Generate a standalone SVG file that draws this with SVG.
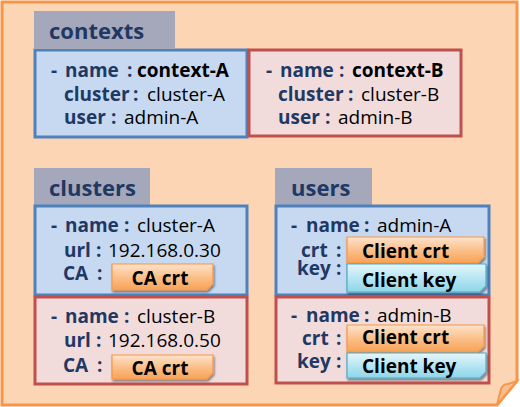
<svg xmlns="http://www.w3.org/2000/svg" width="520" height="407" viewBox="0 0 520 407">
<defs>
<linearGradient id="gOr" x1="0" y1="0" x2="0" y2="1">
<stop offset="0" stop-color="#FDE3CC"/>
<stop offset="0.5" stop-color="#FBC08A"/>
<stop offset="1" stop-color="#F8A257"/>
</linearGradient>
<linearGradient id="gCy" x1="0" y1="0" x2="0" y2="1">
<stop offset="0" stop-color="#E6F6FB"/>
<stop offset="0.5" stop-color="#B7E6F3"/>
<stop offset="1" stop-color="#8DD6EA"/>
</linearGradient>
<filter id="sh" x="-10%" y="-20%" width="130%" height="160%">
<feGaussianBlur in="SourceAlpha" stdDeviation="1.2"/>
<feOffset dx="1" dy="2" result="b"/>
<feComponentTransfer><feFuncA type="linear" slope="0.45"/></feComponentTransfer>
<feMerge><feMergeNode/><feMergeNode in="SourceGraphic"/></feMerge>
</filter>
</defs>
<style>
text{font-family:"Open Sans","Noto Sans",sans-serif;font-size:19px;fill:#000}
.h{font-size:22px;font-weight:bold;fill:#1F3864}
.k{font-weight:bold;fill:#1F3864}
.b{font-weight:bold;fill:#000}
.tab{fill:#A4A8BA}
.blue{fill:#C6D9F1;stroke:#4F81BD;stroke-width:3}
.red{fill:#F2DCDB;stroke:#C0504D;stroke-width:3}
.or{fill:url(#gOr);stroke:#F79646;stroke-width:1.2}
.cy{fill:url(#gCy);stroke:#4BACC6;stroke-width:1.2}
.lbl{font-weight:bold;fill:#000}
</style>
<g id="background">
<path d="M2,2 H517 V381 L497,405 H2 Z" fill="#FCD5B5" stroke="#F79646" stroke-width="3"/>
<path d="M497,405 L501,389 Q503,384 508,384 L517,381 Z" fill="#F6BE8E" stroke="#F79646" stroke-width="2"/>
</g>
<g id="tab-contexts">
<rect class="tab" x="34" y="11" width="141" height="37"/>
<text class="h" x="49" y="39">contexts</text>
</g>
<g id="context-A">
<rect class="blue" x="35" y="50" width="212" height="87"/>
<text y="77"><tspan class="k" x="51">-</tspan><tspan class="k" x="65">name</tspan><tspan class="k" x="127">:</tspan><tspan class="b" x="137">context-A</tspan></text>
<text y="101"><tspan class="k" x="64">cluster</tspan><tspan class="k" x="133">:</tspan><tspan x="147">cluster-A</tspan></text>
<text y="124"><tspan class="k" x="64">user</tspan><tspan class="k" x="111">:</tspan><tspan x="124">admin-A</tspan></text>
</g>
<g id="context-B">
<rect class="red" x="249" y="50" width="212" height="86"/>
<text y="77"><tspan class="k" x="266">-</tspan><tspan class="k" x="280">name</tspan><tspan class="k" x="339">:</tspan><tspan class="b" x="352">context-B</tspan></text>
<text y="101"><tspan class="k" x="278">cluster</tspan><tspan class="k" x="348">:</tspan><tspan x="361">cluster-B</tspan></text>
<text y="124"><tspan class="k" x="278">user</tspan><tspan class="k" x="325">:</tspan><tspan x="338">admin-B</tspan></text>
</g>
<g id="tab-clusters">
<rect class="tab" x="34" y="168" width="116" height="37"/>
<text class="h" x="49" y="196">clusters</text>
</g>
<g id="cluster-A">
<rect class="blue" x="35" y="206" width="212" height="89"/>
<text y="232"><tspan class="k" x="51">-</tspan><tspan class="k" x="65">name</tspan><tspan class="k" x="124">:</tspan><tspan x="137">cluster-A</tspan></text>
<text y="257"><tspan class="k" x="64">url</tspan><tspan class="k" x="96">:</tspan><tspan x="108">192.168.0.30</tspan></text>
<text y="280"><tspan class="k" x="63">CA</tspan><tspan class="k" x="97">:</tspan></text>
<g filter="url(#sh)"><path class="or" d="M112,264 H213 V284 L207,290 H112 Z"/></g>
<text class="lbl" x="160" y="285" text-anchor="middle">CA crt</text>
</g>
<g id="cluster-B">
<rect class="red" x="35" y="297" width="212" height="87"/>
<text y="323"><tspan class="k" x="51">-</tspan><tspan class="k" x="65">name</tspan><tspan class="k" x="124">:</tspan><tspan x="137">cluster-B</tspan></text>
<text y="347"><tspan class="k" x="64">url</tspan><tspan class="k" x="96">:</tspan><tspan x="108">192.168.0.50</tspan></text>
<text y="372"><tspan class="k" x="63">CA</tspan><tspan class="k" x="97">:</tspan></text>
<g filter="url(#sh)"><path class="or" d="M112,355 H213 V373 L207,379 H112 Z"/></g>
<text class="lbl" x="160" y="375" text-anchor="middle">CA crt</text>
</g>
<g id="tab-users">
<rect class="tab" x="275" y="168" width="97" height="37"/>
<text class="h" x="291" y="196">users</text>
</g>
<g id="admin-A">
<rect class="blue" x="276" y="206" width="213" height="89"/>
<text y="232"><tspan class="k" x="291">-</tspan><tspan class="k" x="306">name</tspan><tspan class="k" x="364">:</tspan><tspan x="377">admin-A</tspan></text>
<text y="257"><tspan class="k" x="301">crt</tspan><tspan class="k" x="336">:</tspan></text>
<text y="275"><tspan class="k" x="297">key</tspan><tspan class="k" x="336">:</tspan></text>
<g filter="url(#sh)"><path class="or" d="M347,237 H484 V257 L478,263 H347 Z"/></g>
<text class="lbl" x="362" y="258">Client crt</text>
<g filter="url(#sh)"><path class="cy" d="M347,264 H486 V286 L480,292 H347 Z"/></g>
<text class="lbl" x="362" y="287">Client key</text>
</g>
<g id="admin-B">
<rect class="red" x="276" y="297" width="213" height="86"/>
<text y="322"><tspan class="k" x="291">-</tspan><tspan class="k" x="306">name</tspan><tspan class="k" x="364">:</tspan><tspan x="377">admin-B</tspan></text>
<text y="345"><tspan class="k" x="302">crt</tspan><tspan class="k" x="336">:</tspan></text>
<text y="368"><tspan class="k" x="297">key</tspan><tspan class="k" x="336">:</tspan></text>
<g filter="url(#sh)"><path class="or" d="M347,325 H484 V346 L478,352 H347 Z"/></g>
<text class="lbl" x="362" y="344">Client crt</text>
<g filter="url(#sh)"><path class="cy" d="M347,353 H486 V372 L480,378 H347 Z"/></g>
<text class="lbl" x="362" y="373">Client key</text>
</g>
</svg>
